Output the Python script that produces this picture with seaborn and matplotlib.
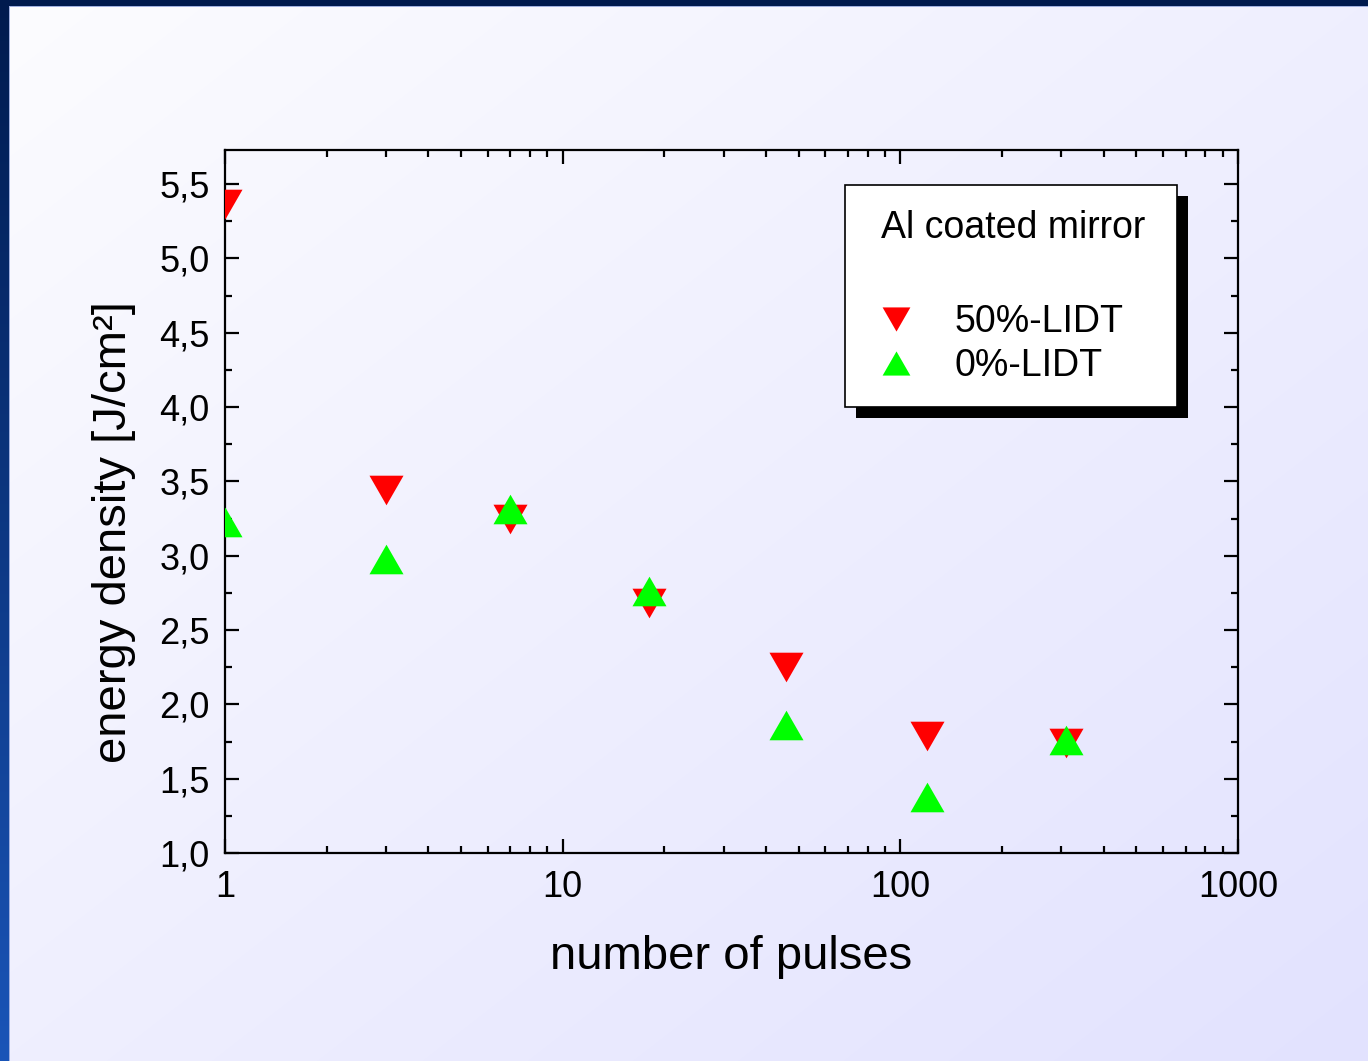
import numpy as np
import pandas as pd
import matplotlib
matplotlib.use("Agg")
import matplotlib.pyplot as plt
import seaborn as sns
from matplotlib.lines import Line2D
from matplotlib.patches import Rectangle
from matplotlib.ticker import FuncFormatter, LogLocator, MultipleLocator, FixedLocator

# datos
pulses = [1, 3, 7, 18, 46, 120, 310]
lidt_50 = [5.37, 3.44, 3.25, 2.68, 2.25, 1.79, 1.74]
lidt_0 = [3.23, 2.975, 3.315, 2.76, 1.86, 1.377, 1.757]
x_ticks = [1, 10, 100, 1000]
x_tick_labels = ["1", "10", "100", "1000"]

df = pd.DataFrame({"pulses": pulses, "lidt_50": lidt_50, "lidt_0": lidt_0})

sns.set_style("ticks")
plt.rcParams['font.family'] = ['Liberation Sans', 'DejaVu Sans']
plt.rcParams['text.color'] = 'black'
plt.rcParams['axes.labelcolor'] = 'black'
plt.rcParams['xtick.color'] = 'black'
plt.rcParams['ytick.color'] = 'black'

W, H = 1368, 1061
fig = plt.figure(figsize=(W / 100, H / 100), dpi=100)

# fondo con degradado y borde azul
yy, xx = np.mgrid[0:H, 0:W]
t = (xx / W + yy / H) / 2.0
c0 = np.array([252, 252, 255]) / 255
c1 = np.array([226, 226, 254]) / 255
bg = c0[None, None, :] * (1 - t[..., None]) + c1[None, None, :] * t[..., None]
top_col = np.array([0, 26, 78]) / 255
bot_col = np.array([26, 85, 184]) / 255
f = (yy / H)[..., None]
side = top_col * (1 - f) + bot_col * f
bg[:, :9, :] = side[:, :9, :]
bg[:6, :, :] = top_col
bg[6, 9:, :] = np.array([160, 176, 224]) / 255
bg[6:, 9, :] = np.array([160, 176, 224]) / 255
ax_bg = fig.add_axes([0, 0, 1, 1])
ax_bg.imshow(bg, aspect="auto", interpolation="bilinear")
ax_bg.axis("off")

ax = fig.add_axes([225 / W, 1 - 853 / H, 1013 / W, 703 / H])
ax.set_facecolor("none")

tri_down = [(-1, 0.87), (1, 0.87), (0, -0.87)]
tri_up = [(-1, -0.87), (1, -0.87), (0, 0.87)]

sns.scatterplot(data=df, x="pulses", y="lidt_50", ax=ax, marker=tri_down, s=600,
                color="#ff0000", linewidth=0, legend=False, zorder=3)
sns.scatterplot(data=df, x="pulses", y="lidt_0", ax=ax, marker=tri_up, s=600,
                color="#00ff00", linewidth=0, legend=False, zorder=4)

ax.set_xscale("log")
ax.set_xlim(1, 1000)
ax.set_ylim(1.0, 5.73)
ax.xaxis.set_major_locator(FixedLocator(x_ticks))
ax.set_xticks(x_ticks)
ax.set_xticklabels(x_tick_labels)
ax.xaxis.set_minor_locator(LogLocator(base=10, subs=np.arange(2, 10)))
ax.xaxis.set_minor_formatter(FuncFormatter(lambda v, p: ""))
ax.yaxis.set_major_locator(MultipleLocator(0.5))
ax.yaxis.set_minor_locator(MultipleLocator(0.25))
ax.yaxis.set_major_formatter(FuncFormatter(lambda v, p: f"{v:.1f}".replace(".", ",")))

for s in ax.spines.values():
    s.set_linewidth(1.6)
    s.set_color("black")
    s.set_visible(True)
ax.tick_params(which="both", direction="in", top=True, right=True, width=1.6, colors="black")
ax.tick_params(which="major", length=10, labelsize=26)
ax.tick_params(axis="x", which="major", pad=12)
ax.tick_params(axis="y", which="major", pad=11)
ax.tick_params(which="minor", length=5)

ax.set_xlabel("number of pulses", fontsize=34, labelpad=22)
ax.set_ylabel("energy density [J/cm²]", fontsize=34, labelpad=17)
ax.yaxis.label.set_y((853 - 532) / 703)

# caja de leyenda con sombra
def px2ax(px, py):
    return (px - 225) / 1013, (853 - py) / 703

sx, sy = px2ax(856, 418)
bx, by = px2ax(845, 407)
bw, bh = 332 / 1013, 222 / 703
ax.add_patch(Rectangle((sx, sy), bw, bh, transform=ax.transAxes, facecolor="black",
                       edgecolor="none", zorder=6, clip_on=False))
ax.add_patch(Rectangle((bx, by), bw, bh, transform=ax.transAxes, facecolor="white",
                       edgecolor="black", linewidth=1.2, zorder=7, clip_on=False))
tx, ty = px2ax(1013, 228)
ax.text(tx, ty, "Al coated mirror", transform=ax.transAxes, fontsize=27,
        ha="center", va="center", zorder=8)

handles = [
    Line2D([], [], linestyle="none", marker=tri_down, markersize=20,
           markerfacecolor="#ff0000", markeredgewidth=0),
    Line2D([], [], linestyle="none", marker=tri_up, markersize=20,
           markerfacecolor="#00ff00", markeredgewidth=0),
]
lx, ly = px2ax(877, 344)
leg = ax.legend(handles, ["50%-LIDT", "0%-LIDT"], loc="center left",
                bbox_to_anchor=(lx, ly), frameon=False, fontsize=27,
                borderpad=0, borderaxespad=0, handlelength=1.0,
                handletextpad=1.08, labelspacing=0.2)
leg.set_zorder(9)

plt.savefig("out.png", dpi=100)
